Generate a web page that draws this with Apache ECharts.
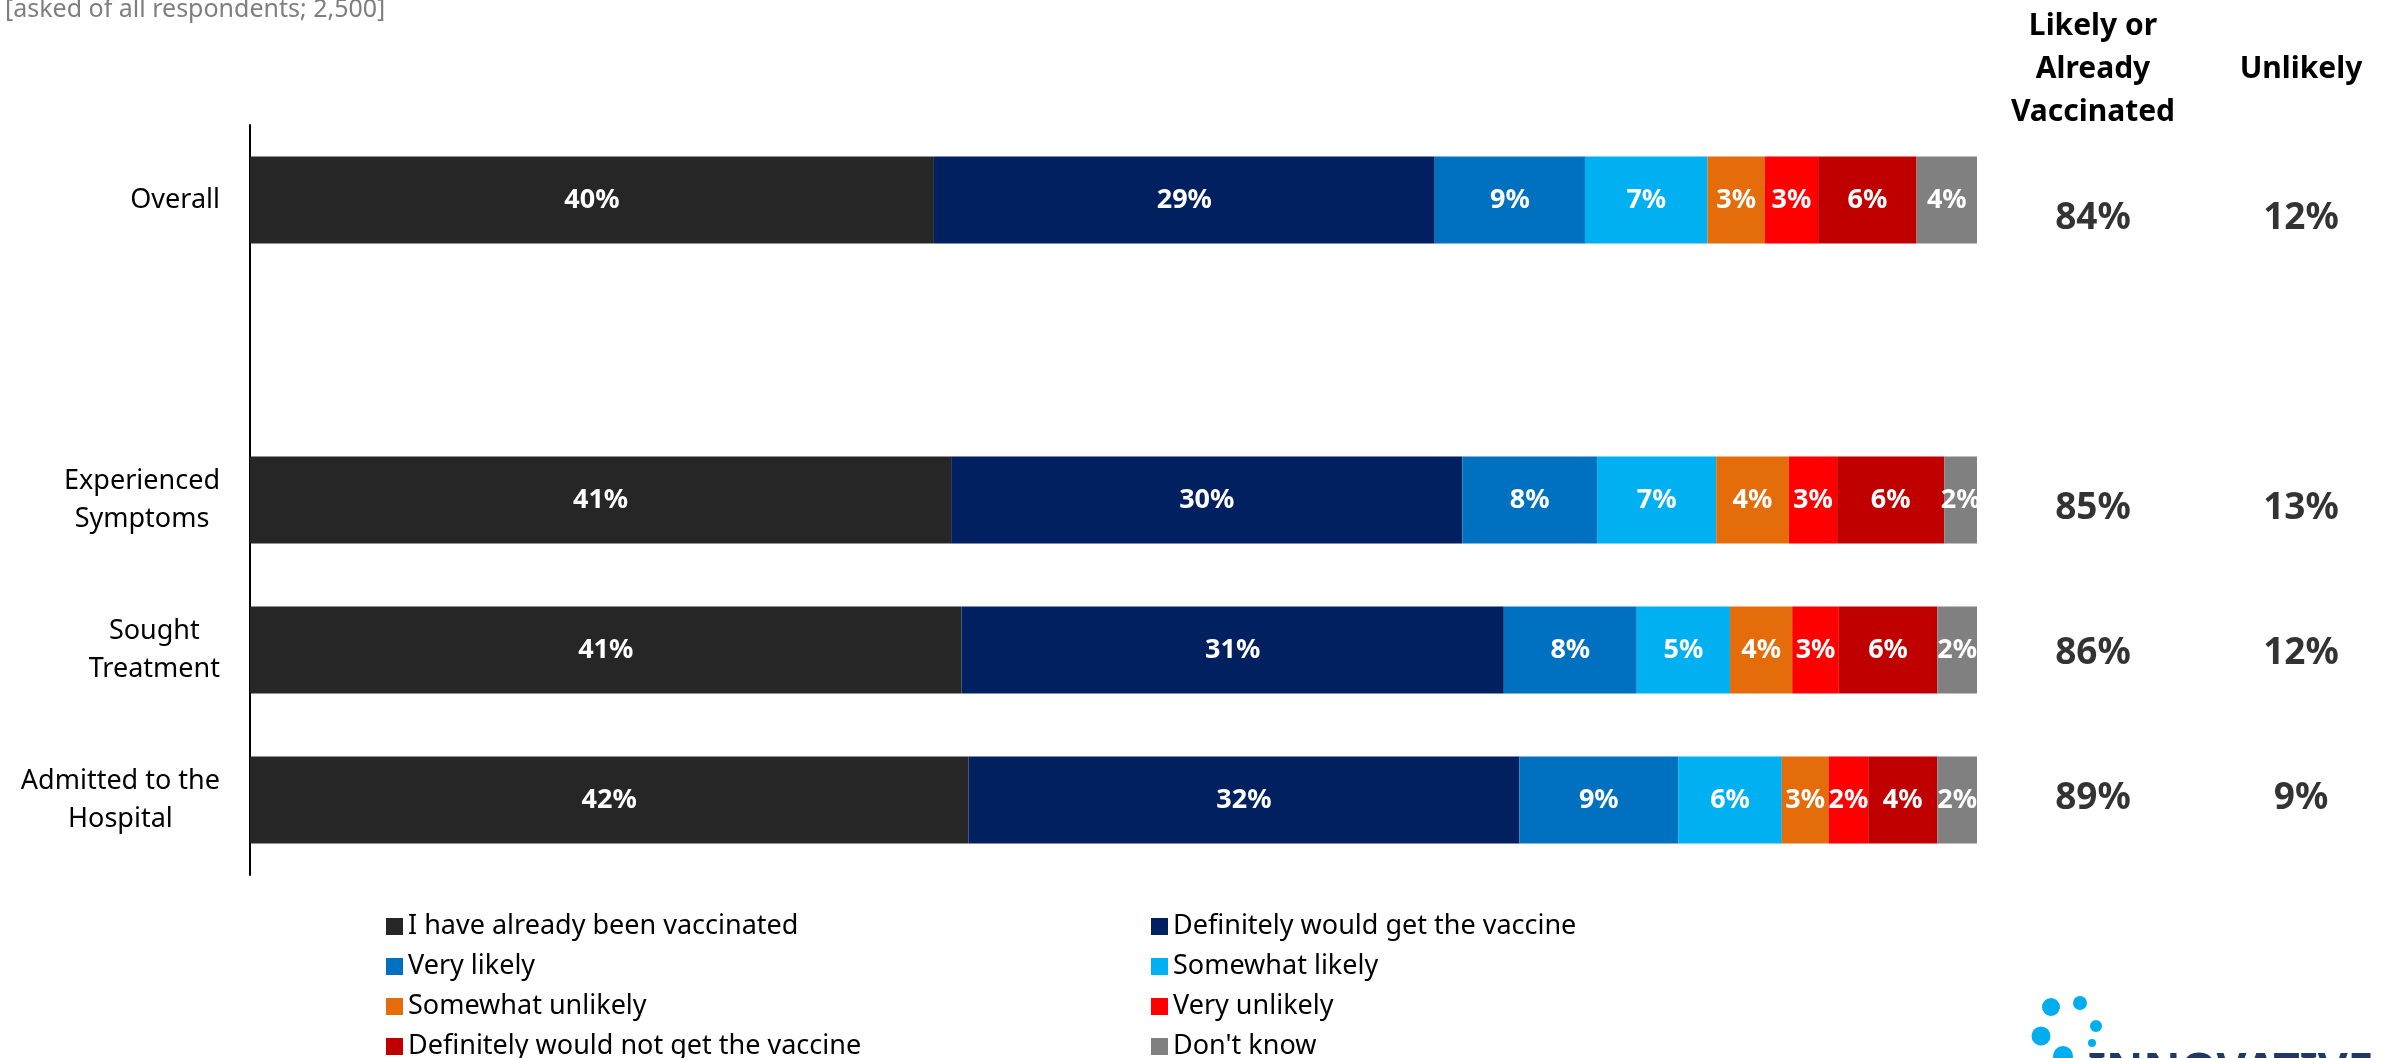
<!DOCTYPE html>
<html>
<head>
<meta charset="utf-8">
<script src="https://cdn.jsdelivr.net/npm/echarts@6/dist/echarts.min.js"></script>
<style>
html,body{margin:0;padding:0;background:#fff;}
#chart{width:2387px;height:1058px;}
</style>
</head>
<body>
<div id="chart"></div>
<script>
// ---- data ----
const categories = ['Overall', '', 'Experienced\nSymptoms', 'Sought\nTreatment', 'Admitted to the\nHospital'];
const seriesNames = ['I have already been vaccinated', 'Definitely would get the vaccine', 'Very likely', 'Somewhat likely',
  'Somewhat unlikely', 'Very unlikely', 'Definitely would not get the vaccine', "Don't know"];
const vaccinated       = [39.6, null, 40.6, 41.2, 41.6];
const definitelyWould  = [29.0, null, 29.6, 31.4, 31.9];
const veryLikely       = [8.7,  null, 7.8,  7.7,  9.2];
const somewhatLikely   = [7.1,  null, 6.9,  5.4,  6.0];
const somewhatUnlikely = [3.3,  null, 4.2,  3.6,  2.7];
const veryUnlikely     = [3.1,  null, 2.8,  2.7,  2.3];
const definitelyNot    = [5.7,  null, 6.2,  5.7,  4.0];
const dontKnow         = [3.5,  null, 1.9,  2.3,  2.3];
const summaryHeaders   = ['Likely or\nAlready\nVaccinated', 'Unlikely'];
const likelyTotals     = [84, null, 85, 86, 89];
const unlikelyTotals   = [12, null, 13, 12, 9];
const subtitle = '[asked of all respondents; 2,500]';

const colors = ['#262626', '#002060', '#0070C0', '#00B0F0', '#E46C0A', '#FF0000', '#C00000', '#808080'];
const values = [vaccinated, definitelyWould, veryLikely, somewhatLikely, somewhatUnlikely, veryUnlikely, definitelyNot, dontKnow];
const FONT = 'Noto Sans';

function centeredRich(text) {
  return text.split('\n').map(l => '{c|' + l + '}').join('\n');
}

const barSeries = values.map((arr, i) => ({
  name: seriesNames[i],
  type: 'bar',
  stack: 'total',
  xAxisIndex: 0, yAxisIndex: 0,
  barWidth: 87,
  data: arr,
  itemStyle: { color: colors[i] },
  label: {
    show: true,
    position: 'inside',
    color: '#fff',
    fontFamily: FONT,
    fontWeight: 'bold',
    fontSize: 27,
    formatter: p => (p.value == null ? '' : Math.round(p.value) + '%')
  },
  emphasis: { disabled: true }
}));

function summarySeries(arr, colIdx) {
  return {
    type: 'scatter',
    xAxisIndex: 1, yAxisIndex: 1,
    symbolSize: 1,
    itemStyle: { color: 'rgba(0,0,0,0)' },
    data: arr.map((v, i) => (v == null ? null : [colIdx, i, v])).filter(d => d),
    label: {
      show: true,
      position: 'inside',
      color: '#000',
      fontFamily: FONT,
      fontWeight: 'bold',
      fontSize: 37,
      formatter: p => p.value[2] + '%'
    },
    silent: true
  };
}

const legendBase = {
  orient: 'vertical', top: 908, height: 200, itemWidth: 17, itemHeight: 17, itemGap: 13,
  icon: 'rect', selectedMode: false,
  textStyle: { fontFamily: FONT, fontSize: 27, lineHeight: 27, color: '#000' }
};

const chart = echarts.init(document.getElementById('chart'));
chart.setOption({
  animation: false,
  backgroundColor: '#fff',
  grid: [
    { left: 250, right: 410, top: 125, bottom: 183 },
    { left: 2093, right: 86, top: 145.5, bottom: 187.5 }
  ],
  xAxis: [
    { type: 'value', gridIndex: 0, min: 0, max: 100, show: false },
    {
      type: 'category', gridIndex: 1, data: summaryHeaders, boundaryGap: false, position: 'top',
      axisLine: { show: false }, axisTick: { show: false }, splitLine: { show: false },
      axisLabel: {
        margin: 76, verticalAlign: 'middle', interval: 0,
        formatter: v => centeredRich(v),
        rich: { c: { align: 'center', fontFamily: FONT, fontWeight: 'bold', fontSize: 30, lineHeight: 43, color: '#000' } }
      }
    }
  ],
  yAxis: [
    {
      type: 'category', gridIndex: 0, data: categories, inverse: true,
      axisLine: { show: true, lineStyle: { color: '#000', width: 2 } },
      axisTick: { show: false },
      axisLabel: {
        margin: 30, interval: 0, align: 'right',
        formatter: v => centeredRich(v),
        rich: { c: { align: 'center', fontFamily: FONT, fontSize: 27, lineHeight: 38, color: '#000' } }
      }
    },
    { type: 'category', gridIndex: 1, data: categories, inverse: true, show: false }
  ],
  legend: [
    Object.assign({}, legendBase, { left: 381, data: [0, 2, 4, 6].map(i => seriesNames[i]) }),
    Object.assign({}, legendBase, { left: 1146, data: [1, 3, 5, 7].map(i => seriesNames[i]) })
  ],
  graphic: [
    { type: 'text', left: 5, top: -3, style: { text: subtitle, fontFamily: FONT, fontSize: 25, fill: '#7F7F7F' } },
    { type: 'circle', shape: { cx: 2051, cy: 1007, r: 9 }, style: { fill: '#00AEEF' } },
    { type: 'circle', shape: { cx: 2080, cy: 1003, r: 7 }, style: { fill: '#00AEEF' } },
    { type: 'circle', shape: { cx: 2096, cy: 1026, r: 6 }, style: { fill: '#00AEEF' } },
    { type: 'circle', shape: { cx: 2041, cy: 1036, r: 9.5 }, style: { fill: '#00AEEF' } },
    { type: 'circle', shape: { cx: 2092, cy: 1043, r: 4 }, style: { fill: '#00AEEF' } },
    { type: 'circle', shape: { cx: 2063, cy: 1056, r: 10 }, style: { fill: '#00AEEF' } },
    { type: 'text', left: 2088, top: 1050, style: { text: 'INNOVATIVE', fontFamily: FONT, fontWeight: 'bold', fontSize: 46, fill: '#1F3864' } }
  ],
  series: barSeries.concat([summarySeries(likelyTotals, 0), summarySeries(unlikelyTotals, 1)])
});
</script>
</body>
</html>
